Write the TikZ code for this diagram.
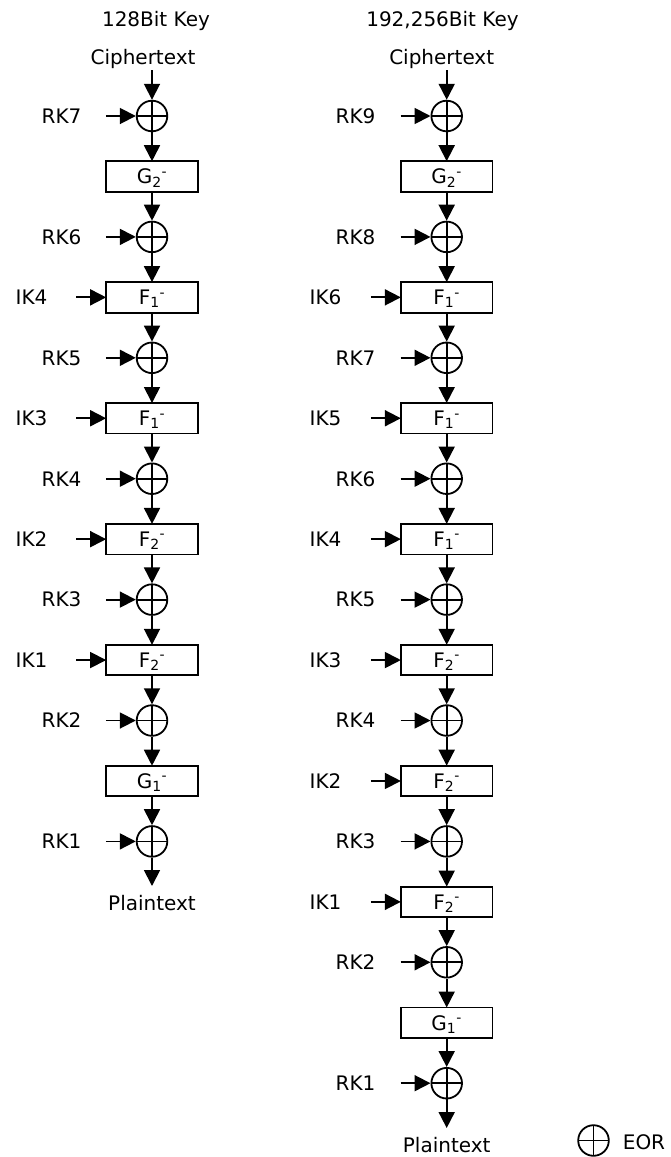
\documentclass[tikz,border=0pt]{standalone}
\usepackage{fontspec}
\setmainfont{DejaVu Sans}
\usetikzlibrary{arrows.meta}
\begin{document}
\begin{tikzpicture}[x=1pt,y=-1pt,
  txt/.style={inner sep=0pt, outer sep=0pt, font=\fontsize{20}{24}\selectfont},
  lab/.style={txt, text height=14.6pt, text depth=0pt},
  xorn/.style={circle, draw, line width=1.8pt, minimum size=30.6pt, inner sep=0pt,
    path picture={\draw[line width=1.8pt] (path picture bounding box.north) -- (path picture bounding box.south)
      (path picture bounding box.west) -- (path picture bounding box.east);}},
  fbox/.style={draw, line width=1.8pt, minimum width=91.7pt, minimum height=30.5pt, inner sep=0pt,
    txt, text height=14.6pt, text depth=0pt},
  arr/.style={line width=1.8pt, -{Triangle[length=16pt,width=16pt]}}]
\useasboundingbox (0,0) rectangle (670,1157);

% titles
\node[txt, anchor=base] (t1) at (156,26) {128Bit Key};
\node[txt, anchor=base] (t2) at (442.5,26) {192,256Bit Key};

% ---------- left column ----------
\node[txt, anchor=south, text depth=6pt] (ctL) at (143,70) {Ciphertext};
\foreach \k/\lab in {0/RK7,2/RK6,4/RK5,6/RK4,8/RK3,10/RK2,12/RK1}{
  \node[xorn] (L\k) at (152,{116+\k*60.45}) {};
  \node[lab] (Ll\k) at (61.5,{116+\k*60.45}) {\lab};
  \draw[arr] ([xshift=-30pt]L\k.west) -- (L\k.west);
}
\foreach \k/\f/\s in {1/G/2,3/F/1,5/F/1,7/F/2,9/F/2,11/G/1}{
  \node[fbox] (L\k) at (152,{116+\k*60.45}) {\f\textsubscript{\s}\textsuperscript{-}};
}
\foreach \k/\lab in {3/IK4,5/IK3,7/IK2,9/IK1}{
  \node[lab] (Li\k) at (31.5,{116+\k*60.45}) {\lab};
  \draw[arr] ([xshift=-30pt]L\k.west) -- (L\k.west);
}
\foreach \k [evaluate=\k as \n using int(\k+1)] in {0,...,11}{
  \draw[arr] (L\k) -- (L\n);
}
\draw[arr] (ctL.south -| L0) -- (L0);
\node[txt, anchor=north, text height=24pt, text depth=0pt] (ptL) at (152,886) {Plaintext};
\draw[arr] (L12) -- (ptL);

% ---------- right column ----------
\node[txt, anchor=south, text depth=6pt] (ctR) at (441.7,70) {Ciphertext};
\foreach \k/\lab in {0/RK9,2/RK8,4/RK7,6/RK6,8/RK5,10/RK4,12/RK3,14/RK2,16/RK1}{
  \node[xorn] (R\k) at (446.7,{116+\k*60.45}) {};
  \node[lab] (Rl\k) at (355.5,{116+\k*60.45}) {\lab};
  \draw[arr] ([xshift=-30pt]R\k.west) -- (R\k.west);
}
\foreach \k/\f/\s in {1/G/2,3/F/1,5/F/1,7/F/1,9/F/2,11/F/2,13/F/2,15/G/1}{
  \node[fbox] (R\k) at (446.7,{116+\k*60.45}) {\f\textsubscript{\s}\textsuperscript{-}};
}
\foreach \k/\lab in {3/IK6,5/IK5,7/IK4,9/IK3,11/IK2,13/IK1}{
  \node[lab] (Ri\k) at (325.5,{116+\k*60.45}) {\lab};
  \draw[arr] ([xshift=-30pt]R\k.west) -- (R\k.west);
}
\foreach \k [evaluate=\k as \n using int(\k+1)] in {0,...,15}{
  \draw[arr] (R\k) -- (R\n);
}
\draw[arr] (ctR.south -| R0) -- (R0);
\node[txt, anchor=north, text height=24pt, text depth=0pt] (ptR) at (446.7,1128) {Plaintext};
\draw[arr] (R16) -- (ptR);

% legend
\node[xorn] (leg) at (593.5,1140.5) {};
\node[lab] (eor) at (644,1142) {EOR};
\end{tikzpicture}
\end{document}
